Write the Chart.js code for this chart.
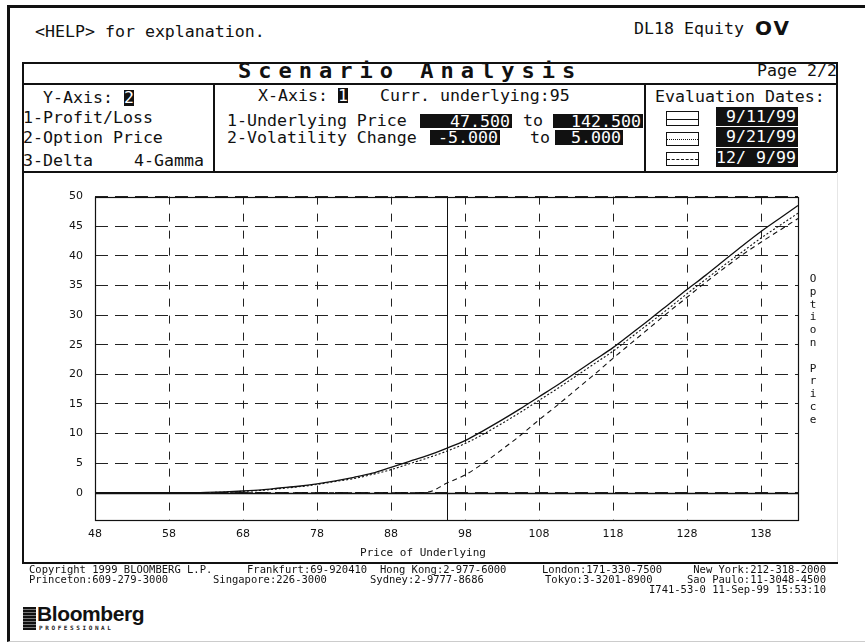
<!DOCTYPE html>
<html>
<head>
<meta charset="utf-8">
<script src="https://cdn.jsdelivr.net/npm/chart.js@4.4.1/dist/chart.umd.min.js"></script>
<style>
  html, body { margin: 0; padding: 0; background: #fff; }
  #page { position: relative; width: 865px; height: 643px; overflow: hidden; background: #fff; }
  .t { position: absolute; font-family: 'DejaVu Sans Mono', monospace; font-size: 16.6px; line-height: 18px; white-space: pre; color: #111; }
  .inv { position: absolute; background: #111; color: #fff; font-family: 'DejaVu Sans Mono', monospace; font-size: 16.6px; line-height: 15px; text-align: right; white-space: pre; box-sizing: border-box; padding-right: 2px; }
  .ln { position: absolute; background: #111; }
  .ft { position: absolute; font-family: 'DejaVu Sans Mono', monospace; font-size: 10.5px; line-height: 11px; white-space: pre; color: #111; }
  .lg { position: absolute; box-sizing: border-box; border: 1px solid #111; width: 33px; }
  .lg div { position: absolute; left: 0; right: 0; top: 50%; }
  #chartBox { position: absolute; left: 24px; top: 178px; width: 814px; height: 385px; }
</style>
</head>
<body>
<div id="page">
  <!-- cadre extérieur -->
  <div style="position:absolute;left:7px;top:5px;right:-5px;bottom:1px;border-left:3px solid #111;border-top:3px solid #111;border-bottom:1px solid #ccc;"></div>

  <div class="t" style="left:35px;top:23px;">&lt;HELP&gt; for explanation.</div>
  <div class="t" style="left:634px;top:20px;">DL18 Equity</div>
  <div class="t" style="left:755px;top:17px;font-family:'DejaVu Sans',sans-serif;font-weight:bold;font-size:20px;line-height:22px;letter-spacing:2px;">OV</div>

  <!-- boîte d'en-tête -->
  <div style="position:absolute;left:22px;top:62px;width:816px;height:111px;border:2px solid #111;box-sizing:border-box;"></div>
  <div class="ln" style="left:22px;top:83px;width:816px;height:2px;"></div>
  <div class="ln" style="left:213px;top:84px;width:2px;height:88px;"></div>
  <div class="ln" style="left:644px;top:84px;width:2px;height:88px;"></div>
  <div class="ln" style="left:22px;top:172px;width:2px;height:391px;"></div>
  <div style="position:absolute;left:837px;top:172px;width:1px;height:391px;background:#e6e6e6;"></div>
  <div class="ln" style="left:22px;top:562px;width:816px;height:1.5px;"></div>

  <div class="t" style="left:238px;top:60px;font-weight:bold;font-size:22px;line-height:22px;letter-spacing:7px;">Scenario Analysis</div>
  <div class="t" style="left:757px;top:62px;">Page 2/2</div>

  <div class="t" style="left:43px;top:89px;">Y-Axis:</div>
  <div class="inv" style="left:124px;top:90px;width:10px;height:16px;text-align:center;padding:0;">2</div>
  <div class="t" style="left:23px;top:109px;">1-Profit/Loss</div>
  <div class="t" style="left:23px;top:129px;">2-Option Price</div>
  <div class="t" style="left:23px;top:152px;">3-Delta</div>
  <div class="t" style="left:134px;top:152px;">4-Gamma</div>

  <div class="t" style="left:258px;top:87px;">X-Axis:</div>
  <div class="inv" style="left:338px;top:88px;width:10px;height:15px;text-align:center;padding:0;">1</div>
  <div class="t" style="left:380px;top:87px;">Curr. underlying:95</div>
  <div class="t" style="left:227px;top:112px;">1-Underlying Price</div>
  <div class="inv" style="left:420px;top:114px;width:92px;height:14px;">47.500</div>
  <div class="t" style="left:523px;top:112px;">to</div>
  <div class="inv" style="left:553px;top:114px;width:90px;height:14px;">142.500</div>
  <div class="t" style="left:227px;top:129px;">2-Volatility Change</div>
  <div class="inv" style="left:430px;top:130px;width:70px;height:15px;">-5.000</div>
  <div class="t" style="left:530px;top:129px;">to</div>
  <div class="inv" style="left:555px;top:130px;width:68px;height:15px;">5.000</div>

  <div class="t" style="left:655px;top:88px;">Evaluation Dates:</div>
  <div id="legend"></div>

  <div id="chartBox"><canvas id="chart-option"></canvas></div>

  <div class="t" style="left:808px;top:273px;font-size:11px;line-height:12.8px;text-align:center;width:10px;">O
p
t
i
o
n

P
r
i
c
e</div>
  <div class="t" style="left:423px;top:546px;font-size:11px;line-height:13px;transform:translateX(-50%);">Price of Underlying</div>

  <!-- pied de page -->
  <div class="ft" style="left:29px;top:564px;">Copyright 1999 BLOOMBERG L.P.</div>
  <div class="ft" style="left:247px;top:564px;">Frankfurt:69-920410</div>
  <div class="ft" style="left:380px;top:564px;">Hong Kong:2-977-6000</div>
  <div class="ft" style="left:542px;top:564px;">London:171-330-7500</div>
  <div class="ft" style="right:39px;top:564px;">New York:212-318-2000</div>
  <div class="ft" style="left:29px;top:574px;">Princeton:609-279-3000</div>
  <div class="ft" style="left:213px;top:574px;">Singapore:226-3000</div>
  <div class="ft" style="left:370px;top:574px;">Sydney:2-9777-8686</div>
  <div class="ft" style="left:545px;top:574px;">Tokyo:3-3201-8900</div>
  <div class="ft" style="right:39px;top:574px;">Sao Paulo:11-3048-4500</div>
  <div class="ft" style="right:39px;top:584px;">I741-53-0 11-Sep-99 15:53:10</div>

  <div style="position:absolute;left:23px;top:607px;width:13px;height:23px;background:repeating-linear-gradient(#111 0 2px,#777 2px 3px);"></div>
  <div style="position:absolute;left:37px;top:602px;font-family:'Liberation Sans',Arial,sans-serif;font-weight:bold;font-size:21px;line-height:24px;letter-spacing:-0.4px;color:#111;">Bloomberg</div>
  <div style="position:absolute;left:39px;top:624px;font-family:'DejaVu Sans Mono',monospace;font-weight:bold;font-size:6px;line-height:7px;letter-spacing:2.6px;color:#222;">PROFESSIONAL</div>
</div>

<script>
// Scénario : prix de l'option selon le prix du sous-jacent
const PRICES = [47.5, 50, 52.5, 55, 57.5, 60, 62.5, 65, 67.5, 70, 72.5, 75, 77.5, 80, 82.5, 85, 87.5, 90, 92.5, 95,
  97.5, 100, 102.5, 105, 107.5, 110, 112.5, 115, 117.5, 120, 122.5, 125, 127.5, 130, 132.5, 135, 137.5, 140, 142.5];
const SERIES_LABELS = ['9/11/99', '9/21/99', '12/ 9/99'];
const PRICE_0911 = [0, 0, 0, 0, 0, 0, 0.05, 0.15, 0.3, 0.5, 0.8, 1.1, 1.5, 2.0, 2.6, 3.3, 4.3, 5.3, 6.3, 7.5,
  8.8, 10.5, 12.3, 14.2, 16.2, 18.2, 20.3, 22.4, 24.5, 26.9, 29.3, 31.8, 34.3, 36.7, 39.2, 41.7, 44.1, 46.3, 48.5];
const PRICE_0921 = [0, 0, 0, 0, 0, 0, 0.03, 0.1, 0.25, 0.4, 0.7, 1.0, 1.4, 1.9, 2.4, 3.1, 3.9, 4.9, 5.9, 7.0,
  8.3, 9.9, 11.7, 13.6, 15.6, 17.6, 19.7, 21.8, 23.9, 26.3, 28.7, 31.1, 33.6, 36.0, 38.4, 40.7, 43.0, 45.1, 47.2];
const PRICE_1209 = [0, 0, 0, 0, 0, 0, 0, 0, 0, 0, 0, 0, 0, 0, 0, 0, 0, 0, 0.1, 1.6,
  3.0, 5.0, 7.3, 9.7, 12.3, 14.8, 17.4, 20.0, 22.7, 25.3, 27.9, 30.5, 33.0, 35.5, 37.9, 40.2, 42.3, 44.3, 46.3];
const X_TICKS = [47.5, 57.5, 67.5, 77.5, 87.5, 97.5, 107.5, 117.5, 127.5, 137.5];
const X_TICK_LABELS = ['48', '58', '68', '78', '88', '98', '108', '118', '128', '138'];
const Y_TICKS = [0, 5, 10, 15, 20, 25, 30, 35, 40, 45, 50];
const CURRENT_UNDERLYING = 95;

const LINE_STYLES = [[], [2, 2], [5, 4]];

// Légende des dates d'évaluation (boîtes de l'en-tête)
const legendTops = [111, 132, 152];
const dateTops = [107, 127, 148];
const legend = document.getElementById('legend');
SERIES_LABELS.forEach((lbl, i) => {
  const dash = i === 0 ? 'solid' : (i === 1 ? 'dotted' : 'dashed');
  legend.insertAdjacentHTML('beforeend',
    `<div class="lg" style="left:666px;top:${legendTops[i]}px;height:${i === 0 ? 15 : 14}px;"><div style="border-top:1px ${dash} #111;"></div></div>` +
    `<div class="inv" style="left:716px;top:${dateTops[i]}px;width:82px;height:${i === 1 ? 20 : 19}px;line-height:${i === 1 ? 20 : 19}px;">${lbl}</div>`);
});

const series = [PRICE_0911, PRICE_0921, PRICE_1209];

const framePlugin = {
  id: 'frame',
  beforeDatasetsDraw(chart) {
    const { ctx, chartArea: a, scales: { x, y } } = chart;
    ctx.save();
    ctx.strokeStyle = '#111';
    ctx.lineWidth = 1.6;
    const y0 = Math.round(y.getPixelForValue(0)) + 0.5;
    ctx.beginPath(); ctx.moveTo(a.left, y0); ctx.lineTo(a.right, y0); ctx.stroke();
    ctx.lineWidth = 1;
    const xc = Math.round(x.getPixelForValue(CURRENT_UNDERLYING)) + 0.5;
    ctx.beginPath(); ctx.moveTo(xc, a.top); ctx.lineTo(xc, a.bottom); ctx.stroke();
    ctx.lineWidth = 1.2;
    ctx.strokeRect(Math.round(a.left) + 0.5, Math.round(a.top) + 0.5, Math.round(a.width), Math.round(a.height));
    ctx.restore();
  }
};

Chart.defaults.font.family = "'DejaVu Sans', sans-serif";
Chart.defaults.color = '#111';

new Chart(document.getElementById('chart-option'), {
  type: 'line',
  data: {
    datasets: series.map((vals, i) => ({
      label: SERIES_LABELS[i],
      data: PRICES.map((p, k) => ({ x: p, y: vals[k] })),
      borderColor: '#111',
      borderWidth: i === 0 ? 1.3 : 1.1,
      borderDash: LINE_STYLES[i],
      pointRadius: 0,
      cubicInterpolationMode: 'monotone',
      fill: false
    }))
  },
  options: {
    responsive: true,
    maintainAspectRatio: false,
    animation: false,
    layout: { padding: { top: 9, right: 40, left: 0, bottom: 0 } },
    scales: {
      x: {
        type: 'linear',
        min: 47.5,
        max: 142.5,
        afterBuildTicks: (scale) => { scale.ticks = X_TICKS.map(v => ({ value: v })); },
        afterFit: (scale) => { scale.height = 43; },
        grid: { color: '#222', lineWidth: 1, drawTicks: false },
        border: { display: false, dash: [8, 9] },
        ticks: { padding: 8, maxRotation: 0, autoSkip: false, font: { size: 11 }, callback: (v, i) => X_TICK_LABELS[i] }
      },
      y: {
        min: -4.6,
        max: 50,
        afterBuildTicks: (scale) => { scale.ticks = Y_TICKS.map(v => ({ value: v })); },
        afterFit: (scale) => { scale.width = 71; },
        grid: { color: '#222', lineWidth: 1, drawTicks: false },
        border: { display: false, dash: [13, 7] },
        ticks: { padding: 12, font: { size: 11 } }
      }
    },
    plugins: {
      legend: { display: false },
      tooltip: { enabled: false }
    }
  },
  plugins: [framePlugin]
});
</script>
</body>
</html>
